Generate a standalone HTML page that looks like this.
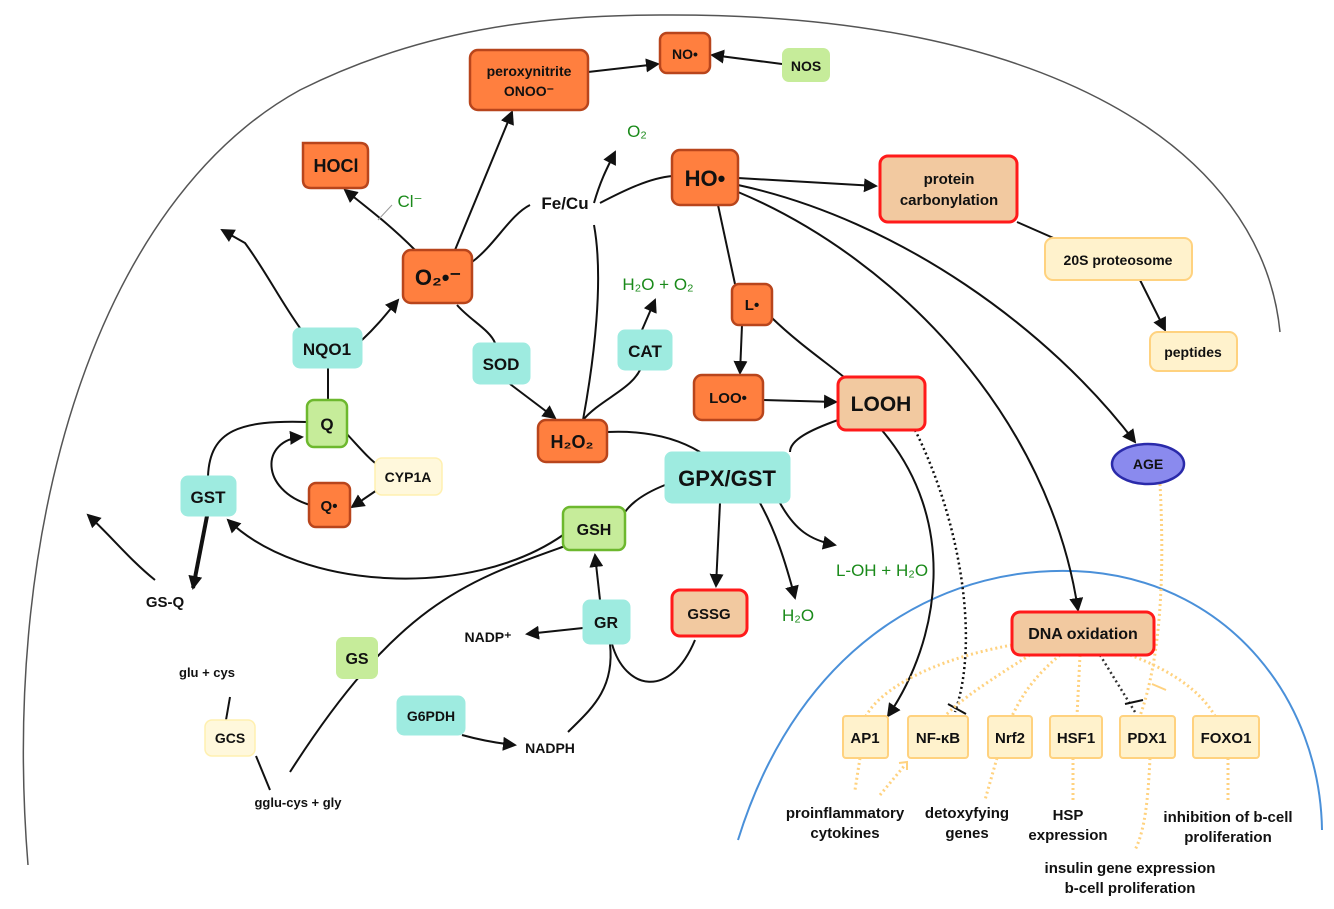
<!DOCTYPE html>
<html><head><meta charset="utf-8"><style>
body{margin:0;background:#fff}
svg{display:block}
text{font-family:"Liberation Sans",sans-serif;font-weight:bold;fill:#111;text-anchor:middle}
.g{fill:#1a8a1a;font-weight:normal}
.or{fill:#FF7F3F;stroke:#B8451C;stroke-width:2.5}
.tn{fill:#F2C9A0;stroke:#FF1A1A;stroke-width:3}
.tl{fill:#9EEBE0;stroke:#9EEBE0;stroke-width:1}
.gr{fill:#C6EC9A;stroke:#6DB82E;stroke-width:2.5}
.ly{fill:#FFF8DC;stroke:#FFF0B0;stroke-width:1.5}
.tf{fill:#FFF2CC;stroke:#FFD27F;stroke-width:2}
.e{fill:none;stroke:#111;stroke-width:2}
.d{fill:none;stroke:#FFD27F;stroke-width:3;stroke-dasharray:2 3}
</style></head><body>
<svg width="1334" height="909" viewBox="0 0 1334 909" xmlns="http://www.w3.org/2000/svg">
<defs><marker id="a" markerWidth="10" markerHeight="10" refX="9" refY="5" orient="auto" markerUnits="userSpaceOnUse"><path d="M0,0 L10,5 L0,10 z" fill="#111"/></marker>
<marker id="b" markerWidth="14" markerHeight="14" refX="12" refY="7" orient="auto" markerUnits="userSpaceOnUse"><path d="M0,0 L14,7 L0,14 z" fill="#111"/></marker></defs>
<path d="M28,865 C0,520 100,200 300,90 C420,30 540,15 660,15 C1050,12 1262,150 1280,332" fill="none" stroke="#555" stroke-width="1.5"/>
<path d="M738,840 C800,640 950,560 1090,572 C1230,585 1320,700 1322,830" fill="none" stroke="#4A90D9" stroke-width="2"/>
<!-- edges -->
<path class="e" d="M588,72 L658,64" marker-end="url(#b)"/>
<path class="e" d="M782,64 L712,55" marker-end="url(#b)"/>
<path class="e" d="M455,250 L512,112" marker-end="url(#b)"/>
<path class="e" d="M415,250 C390,225 370,210 345,190" marker-end="url(#b)"/>
<path d="M378,220 L392,205" stroke="#999" stroke-width="1"/>
<path class="e" d="M472,262 C495,245 510,215 530,205"/>
<path class="e" d="M594,203 C600,182 606,170 615,152" marker-end="url(#b)"/>
<path class="e" d="M600,203 C625,190 650,178 672,176"/>
<path class="e" d="M594,225 C604,280 594,360 583,420"/>
<path class="e" d="M738,178 L876,186" marker-end="url(#b)"/>
<path class="e" d="M718,205 L735,284"/>
<path class="e" d="M742,325 L740,373" marker-end="url(#b)"/>
<path class="e" d="M772,318 C800,345 830,365 845,378"/>
<path class="e" d="M763,400 L836,402" marker-end="url(#b)"/>
<path class="e" d="M738,185 C900,220 1050,330 1135,442" marker-end="url(#b)"/>
<path class="e" d="M738,192 C900,260 1050,420 1078,610" marker-end="url(#b)"/>
<path class="e" d="M1017,222 L1058,240"/>
<path class="e" d="M1140,280 L1165,330" marker-end="url(#b)"/>
<path class="e" d="M880,428 C960,520 940,640 888,716" marker-end="url(#b)"/>
<path d="M915,430 C960,520 980,640 955,712" fill="none" stroke="#111" stroke-width="2.5" stroke-dasharray="2 3"/>
<path d="M948,704 L966,714" stroke="#111" stroke-width="2"/>
<path d="M1100,655 L1135,712" fill="none" stroke="#333" stroke-width="2.5" stroke-dasharray="2 3"/>
<path d="M1125,704 L1143,700" stroke="#111" stroke-width="2"/>
<path class="e" d="M838,420 C810,430 790,440 790,452"/>
<path class="e" d="M607,432 C650,430 680,440 700,452"/>
<path class="e" d="M457,305 C470,320 490,330 495,343"/>
<path class="e" d="M510,384 L555,418" marker-end="url(#b)"/>
<path class="e" d="M583,420 C600,400 630,390 640,370"/>
<path class="e" d="M642,330 L655,300" marker-end="url(#b)"/>
<path class="e" d="M362,340 C378,325 388,312 398,300" marker-end="url(#b)"/>
<path class="e" d="M300,328 C280,300 265,270 245,243 L222,230" marker-end="url(#b)"/>
<path class="e" d="M328,368 L328,400"/>
<path class="e" d="M345,432 C360,448 370,460 378,465"/>
<path class="e" d="M380,488 L352,507" marker-end="url(#b)"/>
<path class="e" d="M310,505 C260,490 260,440 302,437" marker-end="url(#b)"/>
<path class="e" d="M307,422 C240,420 210,430 208,476"/>
<path d="M207,516 L193,588" fill="none" stroke="#111" stroke-width="4" marker-end="url(#b)"/>
<path class="e" d="M155,580 C130,560 110,535 88,515" marker-end="url(#b)"/>
<path class="e" d="M665,485 C640,495 630,505 625,512"/>
<path class="e" d="M563,535 C470,600 300,590 228,520" marker-end="url(#b)"/>
<path class="e" d="M720,503 L716,586" marker-end="url(#b)"/>
<path class="e" d="M760,503 C775,530 785,560 795,598" marker-end="url(#b)"/>
<path class="e" d="M780,503 C795,530 810,540 835,545" marker-end="url(#b)"/>
<path class="e" d="M600,600 L595,555" marker-end="url(#b)"/>
<path class="e" d="M583,628 L527,634" marker-end="url(#b)"/>
<path class="e" d="M612,644 C625,690 670,700 695,640"/>
<path class="e" d="M610,644 C615,690 590,710 568,732"/>
<path class="e" d="M462,735 C480,740 495,743 515,745" marker-end="url(#b)"/>
<path class="e" d="M568,545 C470,580 400,600 290,772"/>
<path class="e" d="M230,697 L226,720"/>
<path class="e" d="M256,756 L270,790"/>
<!-- dotted orange -->
<path class="d" d="M1012,645 C930,660 880,690 866,716"/>
<path class="d" d="M1030,655 C990,680 960,700 945,716"/>
<path class="d" d="M1060,655 C1030,680 1020,700 1012,716"/>
<path class="d" d="M1080,655 L1077,716"/>
<path class="d" d="M1130,655 C1170,670 1200,690 1215,716"/>
<path class="d" d="M1160,484 C1165,580 1160,660 1140,716"/>
<path d="M1152,684 L1166,690" stroke="#FFD27F" stroke-width="2"/>
<path class="d" d="M860,758 L855,790"/>
<path class="d" d="M880,795 L905,765"/>
<path d="M899,763 L907,762 L907,770" fill="none" stroke="#FFD27F" stroke-width="2"/>
<path class="d" d="M997,758 L985,800"/>
<path class="d" d="M1073,758 L1073,800"/>
<path class="d" d="M1150,758 C1148,800 1145,830 1135,850"/>
<path class="d" d="M1228,758 L1228,800"/>
<!-- nodes -->
<rect class="or" x="470" y="50" width="118" height="60" rx="8"/>
<text x="529" y="76" font-size="14">peroxynitrite</text><text x="529" y="96" font-size="14">ONOO⁻</text>
<rect class="or" x="660" y="33" width="50" height="40" rx="7"/><text x="685" y="59" font-size="14">NO•</text>
<rect x="782" y="48" width="48" height="34" rx="7" fill="#C6EC9A"/><text x="806" y="71" font-size="14">NOS</text>
<path class="or" d="M303,143 L360,143 Q368,143 368,151 L368,180 Q368,188 360,188 L311,188 Q303,188 303,180 Z"/><text x="336" y="172" font-size="18">HOCl</text>
<text x="410" y="207" class="g" font-size="17">Cl⁻</text>
<rect class="or" x="403" y="250" width="69" height="53" rx="8"/><text x="438" y="285" font-size="22">O₂•⁻</text>
<text x="565" y="209" font-size="17">Fe/Cu</text>
<text x="637" y="137" class="g" font-size="17">O₂</text>
<rect class="or" x="672" y="150" width="66" height="55" rx="8"/><text x="705" y="186" font-size="22">HO•</text>
<rect class="tn" x="880" y="156" width="137" height="66" rx="8"/><text x="949" y="184" font-size="15">protein</text><text x="949" y="205" font-size="15">carbonylation</text>
<rect x="1045" y="238" width="147" height="42" rx="8" fill="#FFF2CC" stroke="#FFD27F" stroke-width="2"/><text x="1118" y="265" font-size="14">20S proteosome</text>
<rect x="1150" y="332" width="87" height="39" rx="8" fill="#FFF2CC" stroke="#FFD27F" stroke-width="2"/><text x="1193" y="357" font-size="14">peptides</text>
<rect class="or" x="732" y="284" width="40" height="41" rx="7"/><text x="752" y="310" font-size="15">L•</text>
<rect class="or" x="694" y="375" width="69" height="45" rx="8"/><text x="728" y="403" font-size="15">LOO•</text>
<rect class="tn" x="838" y="377" width="87" height="53" rx="8"/><text x="881" y="411" font-size="21">LOOH</text>
<text x="658" y="290" class="g" font-size="17">H₂O + O₂</text>
<rect class="tl" x="618" y="330" width="54" height="40" rx="7"/><text x="645" y="357" font-size="17">CAT</text>
<rect class="tl" x="473" y="343" width="57" height="41" rx="7"/><text x="501" y="370" font-size="17">SOD</text>
<rect class="tl" x="293" y="328" width="69" height="40" rx="7"/><text x="327" y="355" font-size="17">NQO1</text>
<rect class="gr" x="307" y="400" width="40" height="47" rx="7"/><text x="327" y="430" font-size="17">Q</text>
<rect class="ly" x="375" y="458" width="67" height="37" rx="7"/><text x="408" y="482" font-size="14">CYP1A</text>
<rect class="or" x="309" y="483" width="41" height="44" rx="7"/><text x="329" y="511" font-size="15">Q•</text>
<rect class="tl" x="181" y="476" width="55" height="40" rx="7"/><text x="208" y="503" font-size="17">GST</text>
<text x="165" y="607" font-size="15">GS-Q</text>
<rect class="or" x="538" y="420" width="69" height="42" rx="8"/><text x="572" y="448" font-size="18">H₂O₂</text>
<rect class="tl" x="665" y="452" width="125" height="51" rx="7"/><text x="727" y="486" font-size="22">GPX/GST</text>
<rect class="gr" x="563" y="507" width="62" height="43" rx="7"/><text x="594" y="535" font-size="16">GSH</text>
<rect class="tn" x="672" y="590" width="75" height="46" rx="8"/><text x="709" y="619" font-size="15">GSSG</text>
<text x="798" y="621" class="g" font-size="17">H₂O</text>
<text x="882" y="576" class="g" font-size="17">L-OH + H₂O</text>
<rect class="tl" x="583" y="600" width="47" height="44" rx="7"/><text x="606" y="628" font-size="16">GR</text>
<text x="488" y="642" font-size="14">NADP⁺</text>
<rect class="tl" x="397" y="696" width="68" height="39" rx="7"/><text x="431" y="721" font-size="14">G6PDH</text>
<text x="550" y="753" font-size="14">NADPH</text>
<rect x="336" y="637" width="42" height="42" rx="7" fill="#C6EC9A"/><text x="357" y="664" font-size="16">GS</text>
<text x="207" y="677" font-size="13">glu + cys</text>
<rect class="ly" x="205" y="720" width="50" height="36" rx="7"/><text x="230" y="743" font-size="14">GCS</text>
<text x="298" y="807" font-size="13">gglu-cys + gly</text>
<ellipse cx="1148" cy="464" rx="36" ry="20" fill="#8A8AEE" stroke="#2A2AAA" stroke-width="2.5"/><text x="1148" y="469" font-size="14">AGE</text>
<rect class="tn" x="1012" y="612" width="142" height="43" rx="8"/><text x="1083" y="639" font-size="16">DNA oxidation</text>
<rect class="tf" x="843" y="716" width="45" height="42" rx="3"/><text x="865" y="743" font-size="15">AP1</text>
<rect class="tf" x="908" y="716" width="60" height="42" rx="3"/><text x="938" y="743" font-size="15">NF-κB</text>
<rect class="tf" x="988" y="716" width="44" height="42" rx="3"/><text x="1010" y="743" font-size="15">Nrf2</text>
<rect class="tf" x="1050" y="716" width="52" height="42" rx="3"/><text x="1076" y="743" font-size="15">HSF1</text>
<rect class="tf" x="1120" y="716" width="55" height="42" rx="3"/><text x="1147" y="743" font-size="15">PDX1</text>
<rect class="tf" x="1193" y="716" width="66" height="42" rx="3"/><text x="1226" y="743" font-size="15">FOXO1</text>
<g font-size="15"><text x="845" y="818">proinflammatory</text><text x="845" y="838">cytokines</text>
<text x="967" y="818">detoxyfying</text><text x="967" y="838">genes</text>
<text x="1068" y="820">HSP</text><text x="1068" y="840">expression</text>
<text x="1228" y="822">inhibition of b-cell</text><text x="1228" y="842">proliferation</text>
<text x="1130" y="873">insulin gene expression</text><text x="1130" y="893">b-cell proliferation</text></g>
</svg>
</body></html>
